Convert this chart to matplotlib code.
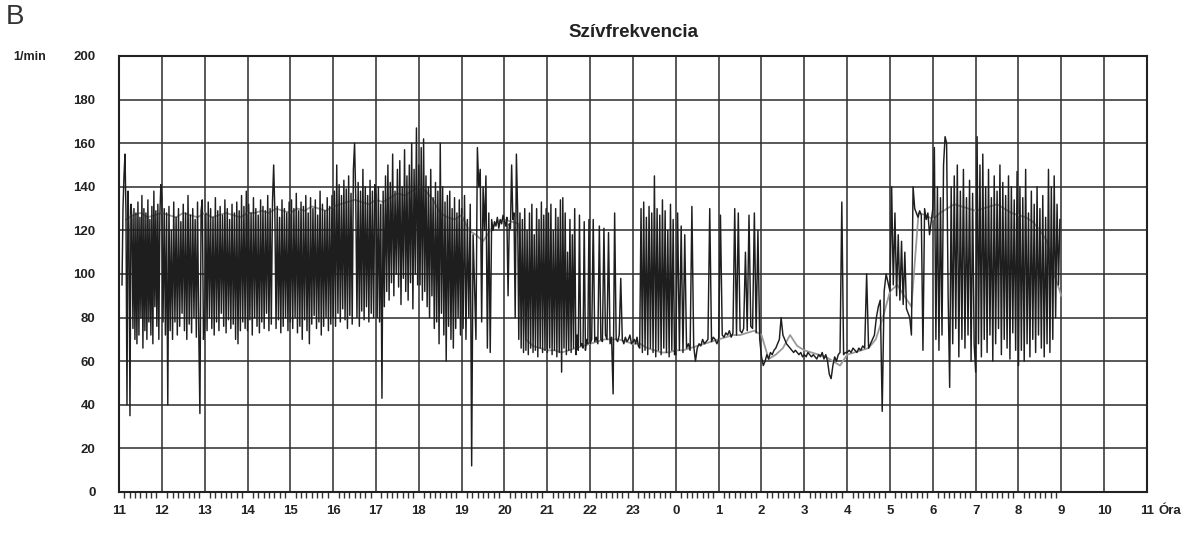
import numpy as np
import matplotlib
matplotlib.use('Agg')
from matplotlib import pyplot as plt

plt.rcParams['font.family'] = ['Liberation Sans', 'DejaVu Sans']

# heart rate trace, one list per clock hour (1/min)
h11 = [95, 130, 145, 155, 128, 40, 138, 120, 35, 132, 125, 75, 130, 70, 128, 68, 133, 72, 126, 80,
       136, 66, 130, 74, 128, 70, 134, 78, 125, 72, 131, 68, 138, 85, 129, 76, 132, 70, 127, 141]
h12 = [135, 78, 130, 72, 128, 40, 131, 74, 120, 70, 133, 78, 126, 72, 130, 76, 124, 82, 132, 74,
       128, 70, 136, 77, 127, 73, 130, 80, 125, 71, 133, 75, 36, 129, 134, 70]
h13 = [76, 128, 74, 133, 80, 130, 75, 126, 72, 135, 78, 129, 74, 131, 82, 127, 76, 134, 73, 130,
       79, 125, 75, 132, 77, 128, 70, 133, 68, 129, 74, 136, 78, 131, 75, 138]
h14 = [74, 132, 79, 128, 72, 135, 80, 130, 76, 127, 73, 134, 78, 131, 75, 129, 82, 136, 74, 130,
       77, 133, 150, 128, 75, 131, 79, 126, 73, 134, 76, 130, 80, 128, 74, 133]
h15 = [78, 134, 75, 130, 80, 137, 73, 129, 76, 133, 70, 131, 79, 136, 74, 128, 68, 135, 77, 130,
       81, 134, 75, 127, 78, 138, 72, 132, 76, 129, 80, 135, 74, 131, 77, 136]
h16 = [80, 138, 76, 150, 82, 141, 78, 136, 84, 143, 79, 139, 75, 145, 81, 137, 77, 148, 160, 134,
       80, 142, 76, 138, 83, 148, 79, 140, 85, 136, 78, 143, 82, 138, 80, 141]
h17 = [136, 80, 140, 78, 132, 43, 138, 85, 145, 92, 150, 88, 142, 96, 155, 90, 138, 100, 148, 94,
       152, 86, 140, 98, 157, 92, 145, 88, 150, 96, 160, 84, 148, 100, 167, 95]
h18 = [150, 95, 158, 88, 162, 92, 145, 85, 140, 80, 148, 90, 135, 75, 142, 78, 138, 68, 160, 82,
       140, 72, 133, 60, 136, 76, 138, 70, 130, 66, 135, 75, 128, 80, 134, 72]
h19 = [130, 75, 136, 70, 125, 80, 132, 12, 118, 95, 70, 158, 140, 148, 78, 140, 120, 145, 66, 128,
       64, 125, 120, 124, 122, 126, 121, 125, 123, 127]
h20 = [124, 122, 126, 90, 123, 121, 150, 125, 128, 80, 155, 130, 70, 128, 66, 125, 64, 130, 65, 120,
       63, 128, 66, 132, 64, 118, 65, 130, 62, 125, 66, 133, 64, 127, 65, 130]
h21 = [64, 128, 66, 132, 63, 120, 65, 130, 62, 126, 64, 134, 55, 135, 66, 128, 63, 110, 65, 125,
       64, 118, 66, 130, 63, 72, 65, 127, 67, 68, 66, 124, 65, 70, 68, 125]
h22 = [68, 70, 125, 69, 71, 68, 122, 70, 69, 121, 72, 70, 119, 68, 71, 45, 128, 70, 69, 72,
       98, 70, 68, 71, 69, 70, 72, 68]
h23 = [69, 70, 68, 71, 67, 66, 130, 64, 133, 65, 126, 63, 131, 66, 128, 64, 145, 62, 130, 65,
       127, 63, 134, 66, 129, 64, 120, 62, 132, 65, 125, 63]
h00 = [63, 128, 65, 122, 64, 118, 66, 68, 65, 131, 67, 60, 66, 68, 67, 70, 68, 69, 70, 130,
       69, 71, 70, 68]
h01 = [70, 127, 72, 71, 73, 72, 74, 71, 73, 130, 72, 128, 74, 73, 75, 110, 74, 127, 76, 75,
       128, 73, 120, 70]
h02 = [62, 58, 60, 63, 61, 64, 63, 65, 66, 68, 70, 80, 72, 70, 68, 67, 66, 65, 64, 65, 64, 63, 64, 62]
h03 = [63, 62, 64, 63, 62, 63, 62, 61, 63, 62, 64, 61, 63, 60, 54, 52, 58, 62, 60, 63, 64, 133, 63, 64]
h04 = [64, 65, 64, 66, 65, 64, 66, 65, 67, 66, 100, 66, 68, 70, 72, 80, 85, 88, 37, 92, 100, 96]
h05 = [92, 140, 95, 128, 90, 118, 88, 115, 86, 110, 84, 82, 80, 72, 140, 130, 128, 126, 129, 127,
       65, 130, 125, 128, 118, 124]
h06 = [130, 158, 70, 140, 65, 135, 72, 150, 163, 160, 90, 48, 140, 68, 145, 75, 150, 62, 138, 70,
       148, 66, 135, 72, 143, 60, 137, 68]
h07 = [55, 163, 68, 150, 62, 155, 70, 140, 64, 148, 72, 135, 60, 145, 68, 138, 75, 150, 63, 142,
       70, 136, 66, 145, 61, 140, 73, 134, 65, 147]
h08 = [58, 140, 65, 135, 60, 148, 68, 128, 62, 138, 70, 132, 64, 140, 72, 130, 66, 136, 62, 126,
       68, 148, 64, 140, 70, 145, 80, 132, 95, 125]

# lighter averaged trace, 10-minute steps
mean_hr = [125, 127, 128, 126, 127, 128, 127, 126, 128, 127, 126, 128,
           126, 127, 128, 127, 126, 128, 128, 129, 128, 130, 129, 128,
           130, 129, 131, 130, 129, 131, 132, 133, 134, 133, 132, 134,
           133, 135, 137, 136, 138, 140, 138, 134, 128, 126, 125, 127,
           120, 118, 115, 120, 124, 125, 124, 123, 70, 67, 66, 65,
           65, 64, 65, 66, 67, 68, 69, 70, 70, 70, 69, 68,
           68, 66, 65, 64, 64, 65, 65, 66, 67, 68, 69, 70,
           71, 72, 72, 73, 74, 72, 61, 63, 66, 72, 67, 65,
           64, 63, 62, 60, 58, 63, 64, 65, 66, 70, 80, 92,
           95, 90, 85, 128, 127, 125, 128, 130, 132, 131, 130, 129,
           130, 131, 132, 130, 128, 127, 126, 124, 120, 115, 100, 90]

hour_lists = [h11, h12, h13, h14, h15, h16, h17, h18, h19, h20, h21, h22,
              h23, h00, h01, h02, h03, h04, h05, h06, h07, h08]
hour_labels = [str((11 + i) % 24) for i in range(25)]
y_ticks = list(range(0, 201, 20))

# build time axis (hours since 11:00)
t_hr, v_hr = [], []
for i, vals in enumerate(hour_lists):
    start = 0.07 if i == 0 else 0.0
    t_hr.extend(i + np.linspace(start, 1, len(vals), endpoint=False))
    v_hr.extend(vals)
t_mean = np.arange(len(mean_hr)) / 6 + 1 / 6

fig = plt.figure(figsize=(11.92, 5.33), dpi=100)
ax = fig.add_axes([119 / 1192, 1 - 492 / 533, 1028 / 1192, 436 / 533])

ax.plot(t_mean, mean_hr, color='#9a9a9a', lw=1.3, zorder=2)
ax.plot(t_hr, v_hr, color='#1e1e1e', lw=1.05, zorder=3)

ax.set_xlim(0, 24)
ax.set_ylim(0, 200)
ax.set_xticks(range(25))
ax.set_xticklabels(hour_labels, fontweight='bold', fontsize=9.5, color='#222222')
ax.set_xticks(np.arange(0, 22.01, 1 / 8), minor=True)
ax.set_yticks(y_ticks)
ax.set_yticklabels([str(v) for v in y_ticks], fontweight='bold', fontsize=9.5, color='#222222')
ax.tick_params(axis='x', which='major', length=0, pad=9)
ax.tick_params(axis='x', which='minor', length=4.5, width=1, direction='out', color='#333333')
ax.tick_params(axis='y', length=0, pad=17)
ax.grid(True, which='major', color='#333333', lw=1.15)
for s in ax.spines.values():
    s.set_color('#222222')
    s.set_linewidth(1.5)

ax.set_title('Szívfrekvencia', fontweight='bold', fontsize=13.5, pad=14, color='#222222')
ax.annotate('Óra', xy=(1, 0), xycoords='axes fraction', xytext=(8, -9),
            textcoords='offset points', ha='left', va='top',
            fontweight='bold', fontsize=9.5, color='#222222')
fig.text(30 / 1192, 1 - 57 / 533, '1/min', ha='center', va='center',
         fontweight='bold', fontsize=9, color='#222222')
fig.text(6 / 1192, 1 - 17 / 533, 'B', ha='left', va='center', fontsize=20, color='#333333')

plt.savefig('out.png', dpi=100)
